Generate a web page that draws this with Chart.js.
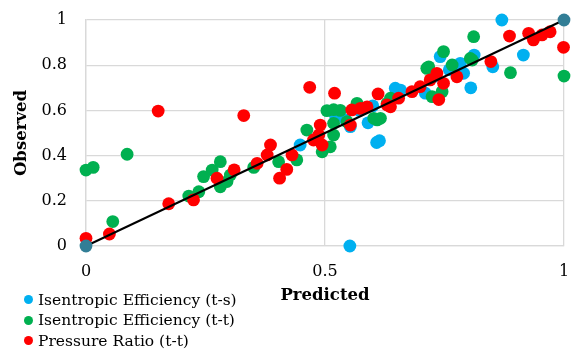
<!DOCTYPE html>
<html>
<head>
<meta charset="utf-8">
<script src="https://cdn.jsdelivr.net/npm/chart.js@4.4.1/dist/chart.umd.min.js"></script>
<style>
  html, body { margin: 0; padding: 0; background: #ffffff; }
  #wrap { position: relative; width: 572px; height: 350px; }
  #legend { position: absolute; left: 0; top: 0; width: 260px; height: 350px; pointer-events: none;
            font-family: "DejaVu Serif", serif; font-size: 15.5px; color: #000; }
  .row { position: absolute; left: 24px; height: 20px; line-height: 20px; white-space: nowrap; }
  .dot { position: absolute; left: 0; top: 5.5px; width: 9px; height: 9px; border-radius: 50%; }
  .txt { position: absolute; left: 14px; top: 0; }
</style>
</head>
<body>
<div id="wrap">
  <canvas id="c" width="572" height="350"></canvas>
  <div id="legend"></div>
</div>
<script>
// Isentropic efficiency (total-to-static): predicted vs observed
const predictedTS = [0.448, 0.522, 0.543, 0.553, 0.552, 0.572, 0.590, 0.600, 0.614, 0.608, 0.647, 0.658,
  0.710, 0.728, 0.741, 0.760, 0.783, 0.783, 0.790, 0.805, 0.812, 0.851, 0.870, 0.915];
const observedTS = [0.447, 0.575, 0.558, 0.528, 0.000, 0.600, 0.545, 0.620, 0.466, 0.458, 0.698, 0.690,
  0.676, 0.750, 0.838, 0.780, 0.808, 0.771, 0.764, 0.700, 0.845, 0.793, 1.000, 0.845];

// Isentropic efficiency (total-to-total)
const predictedTT = [0.000, 0.015, 0.056, 0.086, 0.215, 0.236, 0.246, 0.264, 0.281, 0.281, 0.295, 0.302,
  0.351, 0.403, 0.441, 0.462, 0.494, 0.511, 0.518, 0.518, 0.504, 0.518, 0.532, 0.546, 0.567, 0.602, 0.609,
  0.616, 0.630, 0.637, 0.713, 0.717, 0.724, 0.745, 0.748, 0.766, 0.804, 0.808, 0.811, 0.888, 1.000];
const observedTT = [0.336, 0.348, 0.108, 0.406, 0.221, 0.240, 0.307, 0.336, 0.373, 0.262, 0.285, 0.314,
  0.348, 0.373, 0.381, 0.513, 0.417, 0.439, 0.491, 0.543, 0.599, 0.603, 0.600, 0.550, 0.631, 0.565, 0.558,
  0.565, 0.631, 0.654, 0.786, 0.793, 0.661, 0.683, 0.860, 0.801, 0.830, 0.823, 0.926, 0.767, 0.752];

// Pressure ratio (total-to-total)
const predictedPR = [0.000, 0.049, 0.151, 0.173, 0.225, 0.274, 0.310, 0.330, 0.358, 0.379, 0.386, 0.405,
  0.420, 0.431, 0.468, 0.476, 0.487, 0.490, 0.494, 0.520, 0.553, 0.556, 0.574, 0.588, 0.611, 0.630, 0.637,
  0.654, 0.682, 0.699, 0.720, 0.734, 0.738, 0.748, 0.776, 0.847, 0.886, 0.926, 0.936, 0.954, 0.971, 0.999];
const observedPR = [0.034, 0.053, 0.597, 0.187, 0.204, 0.300, 0.337, 0.577, 0.366, 0.403, 0.447, 0.300,
  0.339, 0.403, 0.702, 0.469, 0.491, 0.535, 0.447, 0.676, 0.535, 0.602, 0.609, 0.616, 0.673, 0.624, 0.616,
  0.654, 0.683, 0.705, 0.735, 0.764, 0.648, 0.720, 0.749, 0.816, 0.929, 0.941, 0.912, 0.934, 0.948, 0.879];

// Parity line y = x
const parityX = [0, 1];
const parityY = [0, 1];

const seriesNames = ['Isentropic Efficiency (t-s)', 'Isentropic Efficiency (t-t)', 'Pressure Ratio (t-t)'];
const xTickLabels = ['0', '0.5', '1'];
const yTickLabels = ['0', '0.2', '0.4', '0.6', '0.8', '1'];

const zip = (xs, ys) => xs.map((x, i) => ({ x: x, y: ys[i] }));

const colors = ['#00B0F0', '#00B050', '#FF0000'];
const serif = '"DejaVu Serif", serif';

function pointSet(name, pts, color, order) {
  return {
    label: name, data: pts, order: order, clip: false,
    backgroundColor: color, borderColor: color,
    pointRadius: 6.4, pointBorderWidth: 0, pointHoverRadius: 6.4,
    showLine: false
  };
}

const chart = new Chart(document.getElementById('c'), {
  type: 'scatter',
  data: {
    datasets: [
      pointSet(seriesNames[0], zip(predictedTS, observedTS), colors[0], 4),
      pointSet(seriesNames[1], zip(predictedTT, observedTT), colors[1], 3),
      pointSet(seriesNames[2], zip(predictedPR, observedPR), colors[2], 2),
      {
        label: 'parity', data: zip(parityX, parityY), order: 1, clip: false,
        showLine: true, borderColor: '#000000', borderWidth: 2,
        pointRadius: 6.4, pointBorderWidth: 0,
        pointBackgroundColor: '#327E96', backgroundColor: '#327E96'
      }
    ]
  },
  options: {
    responsive: false,
    animation: false,
    devicePixelRatio: 1,
    layout: { autoPadding: false, padding: { left: 0, right: 8, top: 20, bottom: 0 } },
    plugins: { legend: { display: false }, tooltip: { enabled: false } },
    scales: {
      x: {
        type: 'linear', min: 0, max: 1,
        afterFit: s => { s.height = 104; s.paddingLeft = 0; s.paddingRight = 0; },
        afterBuildTicks: s => { s.ticks = xTickLabels.map(v => ({ value: parseFloat(v) })); },
        ticks: {
          callback: (v, i) => xTickLabels[i],
          font: { family: serif, size: 16 }, color: '#000', padding: 16, maxRotation: 0
        },
        grid: { color: '#D9D9D9', lineWidth: 1.3, drawTicks: false },
        border: { display: true, color: '#D9D9D9', width: 1.3 },
        title: {
          display: true, text: 'Predicted', color: '#000',
          font: { family: serif, size: 16.5, weight: 'bold' },
          padding: { top: 0, bottom: 44 }
        }
      },
      y: {
        type: 'linear', min: 0, max: 1,
        afterFit: s => { s.width = 86; s.paddingTop = 0; s.paddingBottom = 0; },
        afterBuildTicks: s => { s.ticks = yTickLabels.map(v => ({ value: parseFloat(v) })); },
        ticks: {
          callback: (v, i) => yTickLabels[i],
          font: { family: serif, size: 16 }, color: '#000', padding: 19
        },
        grid: { color: '#D9D9D9', lineWidth: 1.3, drawTicks: false },
        border: { display: true, color: '#D9D9D9', width: 1.3 },
        title: {
          display: true, text: 'Observed', color: '#000',
          font: { family: serif, size: 16.5, weight: 'bold' },
          padding: { top: 12, bottom: 0 }
        }
      }
    }
  }
});

// Series key below the plot, one entry per row
const legendBox = document.getElementById('legend');
const rowCenters = [299.5, 320, 340.5];
seriesNames.forEach((name, i) => {
  const row = document.createElement('div');
  row.className = 'row';
  row.style.top = (rowCenters[i] - 10) + 'px';
  const dot = document.createElement('span');
  dot.className = 'dot';
  dot.style.background = chart.data.datasets[i].backgroundColor;
  const txt = document.createElement('span');
  txt.className = 'txt';
  txt.textContent = name;
  row.appendChild(dot);
  row.appendChild(txt);
  legendBox.appendChild(row);
});
</script>
</body>
</html>
